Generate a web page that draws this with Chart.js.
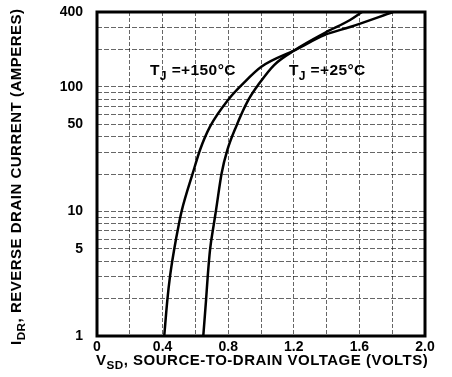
<!DOCTYPE html>
<html>
<head>
<meta charset="utf-8">
<script src="https://cdn.jsdelivr.net/npm/chart.js@4"></script>
<style>
  html, body { margin: 0; padding: 0; background: #fff; }
  #wrap { width: 452px; height: 377px; }
</style>
</head>
<body>
<div id="wrap"><canvas id="diodeChart" width="452" height="377"></canvas></div>
<script>
// forward voltage (V) vs reverse drain current (A)
const vsd150 = [0.41, 0.429, 0.445, 0.47, 0.50, 0.518, 0.584, 0.628, 0.689, 0.799, 0.892, 1.004, 1.207, 1.39, 1.543, 1.805];
const idr150 = [1, 1.95, 3.0, 4.9, 8.0, 10.3, 20.3, 31.2, 48, 78.7, 107, 146, 198, 262, 303, 400];
const vsd25 = [0.648, 0.665, 0.675, 0.689, 0.713, 0.726, 0.76, 0.795, 0.848, 0.923, 0.99, 1.08, 1.207, 1.39, 1.543, 1.616];
const idr25 = [1, 1.95, 3.0, 4.9, 8.0, 10.3, 20.3, 31.2, 48, 78.7, 107, 150, 198, 272, 345, 400];

const yGrid = [1, 2, 3, 4, 5, 6, 7, 8, 9, 10, 20, 30, 40, 50, 60, 70, 80, 90, 100, 200, 300, 400];
const yLabels = [1, 5, 10, 50, 100, 400];
const xLabels = [0, 0.4, 0.8, 1.2, 1.6, 2.0];

const curveLabels = [
    { sub: 'J', text: '=+150°C', x: 0.323, y: 134 },
    { sub: 'J', text: '=+25°C', x: 1.17, y: 134 }
];

function toPoints(xs, ys) {
    return xs.map((x, i) => ({ x: x, y: ys[i] }));
}

const FONT = '"Liberation Sans", Arial, sans-serif';

// draws text with a subscript part, starting at x (left aligned, middle baseline)
function drawSub(ctx, parts, x, y, size, spacing) {
    ctx.letterSpacing = (spacing || 0) + 'px';
    parts.forEach(p => {
        const s = p.sub ? size * 0.78 : size;
        ctx.font = 'bold ' + s + 'px ' + FONT;
        ctx.fillText(p.t, x, y + (p.sub ? size * 0.35 : 0));
        x += ctx.measureText(p.t).width;
    });
    ctx.letterSpacing = '0px';
    return x;
}

const decorations = {
    id: 'decorations',
    afterDraw(chart) {
        const ctx = chart.ctx;
        const a = chart.chartArea;
        const xs = chart.scales.x, ys = chart.scales.y;
        ctx.save();
        // frame
        ctx.strokeStyle = '#000';
        ctx.lineWidth = 3;
        ctx.strokeRect(a.left, a.top, a.right - a.left, a.bottom - a.top);

        ctx.fillStyle = '#000';
        ctx.textBaseline = 'middle';
        ctx.textAlign = 'left';

        // curve labels
        curveLabels.forEach(l => {
            const px = xs.getPixelForValue(l.x);
            const py = ys.getPixelForValue(l.y);
            drawSub(ctx, [{ t: 'T' }, { t: l.sub, sub: true }, { t: ' ' + l.text }], px, py, 15.5, 0.4);
        });

        // x title
        drawSub(ctx, [{ t: 'V' }, { t: 'SD', sub: true }, { t: ', SOURCE-TO-DRAIN VOLTAGE (VOLTS)' }],
            a.left - 1, 361, 15, 0.5);

        // y title, rotated
        ctx.translate(17, a.bottom + 9);
        ctx.rotate(-Math.PI / 2);
        drawSub(ctx, [{ t: 'I' }, { t: 'DR', sub: true }, { t: ', REVERSE DRAIN CURRENT (AMPERES)' }],
            0, 0, 15, 0.5);
        ctx.restore();
    }
};

document.addEventListener('DOMContentLoaded', function () {
    const ctx = document.getElementById('diodeChart').getContext('2d');

    const chart = new Chart(ctx, {
        type: 'scatter',
        data: {
            datasets: [{
                label: 'TJ = +150°C',
                data: toPoints(vsd150, idr150),
                showLine: true,
                borderColor: '#000',
                borderWidth: 2.5,
                pointRadius: 0,
                cubicInterpolationMode: 'monotone'
            }, {
                label: 'TJ = +25°C',
                data: toPoints(vsd25, idr25),
                showLine: true,
                borderColor: '#000',
                borderWidth: 2.5,
                pointRadius: 0,
                cubicInterpolationMode: 'monotone'
            }]
        },
        options: {
            responsive: false,
            animation: false,
            layout: { padding: { top: 0, right: 27, left: 0, bottom: 0 } },
            plugins: {
                legend: { display: false },
                tooltip: { enabled: false }
            },
            scales: {
                x: {
                    type: 'linear',
                    min: 0,
                    max: 2,
                    afterFit: s => { s.height = 41; },
                    ticks: {
                        stepSize: 0.2,
                        autoSkip: false,
                        maxRotation: 0,
                        padding: 3,
                        color: '#000',
                        font: { family: FONT, size: 14, weight: 'bold' },
                        callback: v => {
                            const hit = xLabels.find(l => Math.abs(l - v) < 1e-6);
                            if (hit === undefined) return '';
                            return hit === 0 ? '0' : hit.toFixed(1);
                        }
                    },
                    grid: {
                        color: 'rgba(0,0,0,0.6)',
                        lineWidth: 1,
                        drawTicks: false
                    },
                    border: { display: false, dash: [4, 2] }
                },
                y: {
                    type: 'logarithmic',
                    min: 1,
                    max: 400,
                    afterFit: s => { s.width = 97; s.paddingTop = 12; },
                    afterBuildTicks: s => {
                        s.ticks = yGrid.map(v => ({ value: v }));
                    },
                    ticks: {
                        autoSkip: false,
                        padding: 14,
                        color: '#000',
                        font: { family: FONT, size: 14, weight: 'bold' },
                        callback: v => yLabels.includes(v) ? String(v) : ''
                    },
                    grid: {
                        color: 'rgba(0,0,0,0.6)',
                        lineWidth: 1,
                        drawTicks: false
                    },
                    border: { display: false, dash: [5, 2] }
                }
            }
        },
        plugins: [decorations]
    });
});
</script>
</body>
</html>
